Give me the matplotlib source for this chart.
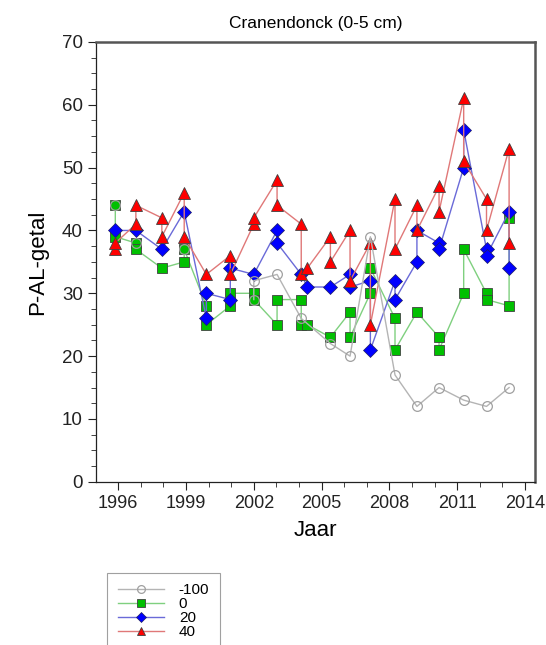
import numpy as np
import matplotlib.pyplot as plt
from matplotlib.ticker import MultipleLocator

plt.rcParams['font.family'] = ['Liberation Sans', 'DejaVu Sans']

# sampling dates (decimal year)
dates = [1995.87, 1996.78, 1997.93, 1998.92, 1999.9, 2000.96, 2002.0, 2003.03,
         2004.1, 2004.37, 2005.39, 2006.26, 2007.16, 2008.25, 2009.22, 2010.2,
         2011.29, 2012.3, 2013.3]

# series: index into dates + value (duplicates per date joined in order)
gray_idx = [0, 0, 1, 1, 3, 3, 6, 6, 7, 8, 10, 11, 12, 13, 14, 15, 16, 17, 18]
gray_val = [44, np.nan, 38, np.nan, 37, np.nan, 29, 32, 33, 26, 22, 20, 39, 17, 12, 15, 13, 12, 15]

green_idx = [0, 0, 1, 1, 2, 3, 3, 4, 4, 5, 5, 6, 6, 7, 7, 8, 8, 9, 10, 11, 11,
             12, 12, 13, 13, 14, 15, 15, 16, 16, 17, 17, 18, 18]
green_val = [44, 39, 38, 37, 34, 35, 37, 28, 25, 28, 30, 30, 29, 25, 29, 29, 25, 25, 23, 27, 23,
             30, 34, 26, 21, 27, 23, 21, 30, 37, 30, 29, 28, 42]

blue_idx = [0, 1, 2, 3, 4, 4, 5, 5, 6, 7, 7, 8, 9, 10, 11, 11, 12, 12, 13, 13,
            14, 14, 15, 15, 16, 16, 17, 17, 18, 18]
blue_val = [40, 40, 37, 43, 26, 30, 29, 34, 33, 40, 38, 33, 31, 31, 33, 31, 32, 21, 32, 29,
            35, 40, 38, 37, 50, 56, 37, 36, 43, 34]

red_idx = [0, 0, 1, 1, 2, 2, 3, 3, 4, 5, 5, 6, 6, 7, 7, 8, 8, 9, 10, 10, 11, 11,
           12, 12, 13, 13, 14, 14, 15, 15, 16, 16, 17, 17, 18, 18]
red_val = [37, 38, 41, 44, 42, 39, 46, 39, 33, 36, 33, 41, 42, 48, 44, 41, 33, 34, 39, 35, 40, 32,
           38, 25, 45, 37, 44, 40, 47, 43, 61, 51, 45, 40, 53, 38]

labels = ['-100', '0', '20', '40']
year_ticks = [1996, 1999, 2002, 2005, 2008, 2011, 2014]

fig = plt.figure(figsize=(5.46, 6.45), dpi=100)
ax = fig.add_axes([0.176, 0.253, 0.804, 0.682])

d = np.array(dates)
ax.plot(d[green_idx], green_val, color='#7fd07f', lw=1, marker='s', ms=7,
        mfc='#00c000', mec='#404040', mew=0.6, label=labels[1], zorder=3)
ax.plot(d[blue_idx], blue_val, color='#6a6ad8', lw=1, marker='D', ms=7,
        mfc='#0000ff', mec='#202060', mew=0.5, label=labels[2], zorder=4)
ax.plot(d[red_idx], red_val, color='#e07878', lw=1, marker='^', ms=8,
        mfc='#ff0000', mec='#404040', mew=0.6, label=labels[3], zorder=5)
ax.plot(d[gray_idx], gray_val, color='#b4b4b4', lw=1, marker='o', ms=7,
        mfc='none', mec='#a0a0a0', mew=0.9, label=labels[0], zorder=6)

ax.set_xlim(1995.02, 2014.45)
ax.set_ylim(0, 70)
ax.set_xticks(year_ticks)
ax.xaxis.set_minor_locator(MultipleLocator(1))
ax.yaxis.set_major_locator(MultipleLocator(10))
ax.yaxis.set_minor_locator(MultipleLocator(2.5))
ax.tick_params(which='major', direction='out', length=6, labelsize=13.5, colors='#222222')
ax.tick_params(axis='x', which='major', labelsize=13)
ax.tick_params(which='minor', direction='out', length=3.5, colors='#222222')
ax.tick_params(top=False, right=False)
for s in ['left', 'bottom']:
    ax.spines[s].set_linewidth(0.9)
    ax.spines[s].set_color('#222222')
for s in ['top', 'right']:
    ax.spines[s].set_linewidth(1.8)
    ax.spines[s].set_color('#555555')

ax.set_title('Cranendonck (0-5 cm)', fontsize=12.5, pad=10)
ax.set_xlabel('Jaar', fontsize=16, labelpad=6)
ax.set_ylabel('P-AL-getal', fontsize=16, labelpad=10)

h, l = ax.get_legend_handles_labels()
order = [3, 0, 1, 2]
leg = fig.legend([h[i] for i in order], [l[i] for i in order],
                 loc='upper left', bbox_to_anchor=(0.196, 0.112), fontsize=11,
                 frameon=True, fancybox=False, edgecolor='#888888', borderaxespad=0,
                 handlelength=3, labelspacing=0.0, borderpad=0.7, handletextpad=1.0,
                 markerscale=0.8)
leg.get_frame().set_linewidth(0.8)

fig.savefig('out.png', dpi=100)
